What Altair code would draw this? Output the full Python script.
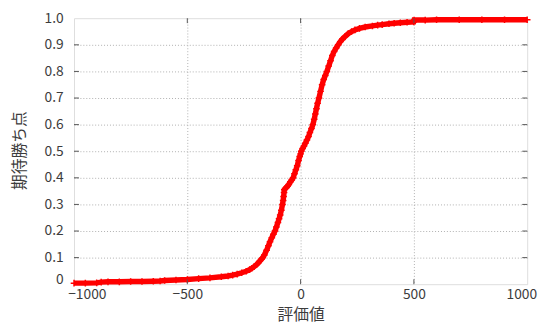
import altair as alt
import pandas as pd

# --- data ---
eval_x = [-1000, -950, -900, -880, -850, -800, -750, -700, -650, -620, -600, -550, -500, -450,
          -400, -350, -320, -300, -280, -260, -240, -225, -215, -205, -195, -187, -180, -173,
          -167, -160, -150, -142, -135, -127, -120, -113, -107, -100, -95, -90, -85, -80, -77,
          -75, -73, -72, -68, -63, -58, -52, -45, -39, -33, -27, -21, -15, -9, -4, 0, 3, 9, 15,
          21, 28, 35, 41, 48, 54, 60, 65, 70, 75, 81, 88, 95, 102, 109, 116, 124, 132, 140,
          148, 157, 166, 175, 185, 195, 210, 225, 240, 260, 285, 317, 340, 360, 390, 413, 440,
          470, 499, 501, 550, 600, 700, 800, 900, 1000]
win_pts = [0.004, 0.004, 0.005, 0.008, 0.009, 0.009, 0.010, 0.010, 0.011, 0.012, 0.014, 0.016,
           0.018, 0.021, 0.024, 0.028, 0.031, 0.034, 0.038, 0.043, 0.049, 0.055, 0.060, 0.066,
           0.073, 0.080, 0.087, 0.094, 0.100, 0.110, 0.128, 0.145, 0.160, 0.175, 0.188, 0.200,
           0.215, 0.232, 0.246, 0.260, 0.278, 0.300, 0.315, 0.330, 0.345, 0.355, 0.360, 0.364,
           0.368, 0.375, 0.385, 0.392, 0.400, 0.415, 0.430, 0.445, 0.465, 0.480, 0.490, 0.500,
           0.510, 0.520, 0.530, 0.542, 0.555, 0.570, 0.585, 0.600, 0.620, 0.640, 0.660, 0.680,
           0.700, 0.725, 0.750, 0.770, 0.785, 0.800, 0.820, 0.840, 0.860, 0.875, 0.888, 0.900,
           0.912, 0.922, 0.930, 0.942, 0.950, 0.956, 0.962, 0.967, 0.971, 0.974, 0.976, 0.979,
           0.981, 0.983, 0.985, 0.986, 0.993, 0.993, 0.994, 0.994, 0.994, 0.994, 0.994]

x_ticks = [-1000, -500, 0, 500, 1000]
y_ticks = [0, 0.1, 0.2, 0.3, 0.4, 0.5, 0.6, 0.7, 0.8, 0.9, 1.0]
x_inner_ticks = [-500, 0, 500]
y_inner_ticks = [0.1, 0.2, 0.3, 0.4, 0.5, 0.6, 0.7, 0.8, 0.9]

x_title = "評価値"
y_title = "期待勝ち点"

W, H = 460, 270
FONT = "Noto Sans CJK JP"
TXT = "#3c3c3c"
GRID = "#b0b0b0"

df = pd.DataFrame({"x": eval_x, "y": win_pts})
xt = pd.DataFrame({"x": x_inner_ticks})
yt = pd.DataFrame({"y": y_inner_ticks})

xscale = alt.Scale(domain=[-1000, 1000], nice=False, zero=False)
yscale = alt.Scale(domain=[0, 1], nice=False, zero=False)

xaxis = alt.Axis(
    values=x_ticks, title=x_title, format="d", grid=True, gridColor=GRID, gridDash=[1, 2],
    gridOpacity={"condition": {"test": "abs(datum.value) == 1000", "value": 0}, "value": 1},
    ticks=False, domain=False, labelFont=FONT, labelFontSize=14, labelColor=TXT,
    labelPadding=3, labelFlush=False, labelOverlap=False,
    labelOffset={"condition": [{"test": "datum.value == -1000", "value": 13},
                               {"test": "datum.value == 1000", "value": -6}], "value": 0},
    titleFont=FONT, titleFontSize=16, titleColor=TXT, titleFontWeight="normal",
    titleX=W / 2, titleY=30.5, titleBaseline="middle", titleAlign="center",
)
yaxis = alt.Axis(
    values=y_ticks, title=y_title, grid=True, gridColor=GRID, gridDash=[1, 2],
    gridOpacity={"condition": {"test": "datum.value == 0 || datum.value == 1", "value": 0}, "value": 1},
    ticks=False, domain=False, labelFont=FONT, labelFontSize=14, labelColor=TXT,
    labelPadding=11, labelFlush=False, labelOverlap=False,
    labelExpr="datum.value == 0 ? '0' : format(datum.value, '.1f')",
    labelOffset={"condition": {"test": "datum.value == 0", "value": -5}, "value": 0},
    titleFont=FONT, titleFontSize=16, titleColor=TXT, titleFontWeight="normal",
    titleX=-55, titleY=H / 2 - 1, titleAngle=-90, titleBaseline="middle", titleAlign="center",
)

X = alt.X("x:Q", scale=xscale, axis=xaxis)
Y = alt.Y("y:Q", scale=yscale, axis=yaxis)

line = alt.Chart(df).mark_line(color="#ff0000", strokeWidth=5.5).encode(x=X, y=Y)
pts = alt.Chart(df).mark_point(
    shape="M-1,0L1,0M0,-1L0,1", size=45, color="#ff0000", filled=False, strokeWidth=1.5, opacity=1
).encode(x=X, y=Y)

tick_col = "#555555"
bt = alt.Chart(xt).mark_rule(color=tick_col, strokeWidth=1).encode(
    x=X, y=alt.value(H - 5), y2=alt.value(H))
tt = alt.Chart(xt).mark_rule(color=tick_col, strokeWidth=1).encode(
    x=X, y=alt.value(0), y2=alt.value(5))
lt = alt.Chart(yt).mark_rule(color=tick_col, strokeWidth=1).encode(
    y=Y, x=alt.value(0), x2=alt.value(5))
rt = alt.Chart(yt).mark_rule(color=tick_col, strokeWidth=1).encode(
    y=Y, x=alt.value(W - 5), x2=alt.value(W))

chart = alt.layer(line, pts, bt, tt, lt, rt).properties(
    width=W, height=H,
    autosize=alt.AutoSizeParams(type="none"),
    padding={"left": 67, "top": 8, "right": 13, "bottom": 38},
).configure_view(stroke="#606060", strokeWidth=1.2).configure(background="white")

chart.save("out.html", embed_options={"renderer": "svg", "actions": False})
